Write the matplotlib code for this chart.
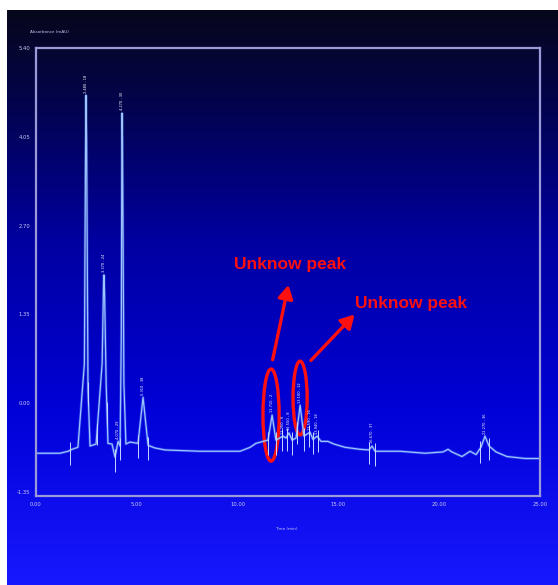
import numpy as np
import matplotlib.pyplot as plt
from matplotlib.colors import LinearSegmentedColormap
from matplotlib.patches import Ellipse

# chromatogram trace: time (min) / absorbance (mAU)
time = [0.00, 1.19, 1.59, 1.79, 2.08, 2.40, 2.46, 2.48, 2.51, 2.58, 2.68, 2.98,
        3.28, 3.35, 3.37, 3.40, 3.48, 3.57, 3.77, 3.92, 4.07, 4.17, 4.23, 4.26,
        4.27, 4.29, 4.36, 4.46, 4.66, 5.06, 5.31, 5.56, 5.90, 6.40, 8.13, 10.12,
        10.62, 10.91, 11.26, 11.51, 11.71, 11.90, 12.25, 12.40, 12.55, 12.70,
        12.90, 13.10, 13.29, 13.59, 13.74, 13.94, 14.14, 14.48, 14.78, 15.33,
        16.07, 16.52, 16.67, 16.82, 18.06, 19.30, 20.19, 20.44, 20.63, 21.13,
        21.53, 21.83, 22.07, 22.27, 22.47, 22.82, 23.36, 24.26, 25.00]
absorb = [-0.76, -0.76, -0.73, -0.70, -0.67, 0.60, 4.00, 4.68, 4.00, 0.20,
          -0.65, -0.62, 0.60, 1.80, 1.95, 1.70, 0.30, -0.61, -0.62, -0.82,
          -0.58, -0.65, 1.00, 4.00, 4.41, 4.00, 0.30, -0.62, -0.59, -0.61,
          0.09, -0.64, -0.68, -0.71, -0.73, -0.73, -0.67, -0.61, -0.58, -0.56,
          -0.18, -0.56, -0.50, -0.53, -0.45, -0.56, -0.53, -0.03, -0.50, -0.44,
          -0.55, -0.50, -0.58, -0.58, -0.62, -0.67, -0.70, -0.71, -0.65, -0.73,
          -0.73, -0.76, -0.74, -0.70, -0.74, -0.81, -0.73, -0.78, -0.67, -0.50,
          -0.65, -0.74, -0.81, -0.84, -0.84]

# integration start/end marks
drop_times = [1.69, 2.58, 3.03, 3.52, 3.92, 4.17, 5.06, 5.56, 11.51, 11.90,
              12.20, 12.45, 12.70, 12.95, 13.29, 13.54, 13.74, 13.99, 16.52,
              16.82, 22.02, 22.47]

# labelled peaks
peak_times = [2.48, 3.37, 4.07, 4.27, 5.31, 11.71, 12.25, 12.55, 13.10, 13.59,
              13.94, 16.67, 22.27]
peak_heights = [4.68, 1.95, -0.58, 4.41, 0.09, -0.18, -0.50, -0.45, -0.03, -0.44,
                -0.50, -0.65, -0.50]

yticks = [5.40, 4.05, 2.70, 1.35, 0.00, -1.35]
xticks = [0, 5, 10, 15, 20, 25]

W, H = 558, 585
fig = plt.figure(figsize=(W / 100, H / 100), dpi=100)
fig.patch.set_facecolor('white')

# blue gradient panel
bg = fig.add_axes([7 / W, 0, (W - 7) / W, (H - 10) / H])
cmap = LinearSegmentedColormap.from_list('panel', [
    (0.0, '#07071c'), (0.15, '#03034a'), (0.4, '#0000a0'),
    (0.7, '#0000d8'), (1.0, '#1818ff')])
bg.imshow(np.linspace(0, 1, 400).reshape(-1, 1), cmap=cmap, aspect='auto',
          extent=[0, 1, 0, 1])
bg.axis('off')

ax = fig.add_axes([36 / W, 1 - 496 / H, (540 - 36) / W, (496 - 48) / H])
ax.patch.set_visible(False)
ax.set_xlim(0, 25)
ax.set_ylim(-1.41, 5.40)

for s in ax.spines.values():
    s.set_color('#9a9ad8')
    s.set_linewidth(1.6)

ax.set_xticks(xticks)
ax.set_xticklabels(['%.2f' % v for v in xticks])
ax.set_yticks(yticks)
ax.set_yticklabels(['%.2f' % v for v in yticks])
ax.tick_params(length=0, labelsize=3.8, labelcolor='#c8c8f0', pad=4)

ax.plot(time, absorb, color='#6fa8ff', lw=2.0, alpha=0.3)
ax.plot(time, absorb, color='#9cc4ff', lw=0.9)

base = np.interp(drop_times, time, absorb)
ax.vlines(drop_times, base - 0.22, base + 0.12, color='#c8d8ff', lw=0.7)

for t, h in zip(peak_times, peak_heights):
    ax.text(t, h + 0.04, '%.3f - %d' % (t, int(t * 7) % 40 + 1), rotation=90,
            fontsize=2.6, color='white', ha='center', va='bottom')

ax.text(-0.3, 5.62, 'Absorbance (mAU)', fontsize=3, color='#c8c8f0',
        ha='left', va='bottom')
ax.text(12.4, -1.88, 'Time (min)', fontsize=3, color='#c8c8f0',
        ha='center', va='top')

# unknown peak callouts
red = '#ff1010'
ax.add_patch(Ellipse((11.66, -0.18), 0.8, 1.40, fill=False, ec=red, lw=2.4))
ax.add_patch(Ellipse((13.10, 0.08), 0.7, 1.12, fill=False, ec=red, lw=2.4))
ax.annotate('', xy=(12.55, 1.84), xytext=(11.71, 0.62),
            arrowprops=dict(arrowstyle='-|>,head_width=0.45,head_length=0.8',
                            color=red, lw=2.4))
ax.annotate('', xy=(15.90, 1.38), xytext=(13.54, 0.62),
            arrowprops=dict(arrowstyle='-|>,head_width=0.45,head_length=0.8',
                            color=red, lw=2.4))
ax.text(12.60, 2.11, 'Unknow peak', color=red, fontsize=12.5,
        fontweight='bold', family='Liberation Sans', ha='center', va='center')
ax.text(18.60, 1.52, 'Unknow peak', color=red, fontsize=12.5,
        fontweight='bold', family='Liberation Sans', ha='center', va='center')

fig.savefig('out.png', dpi=100)
